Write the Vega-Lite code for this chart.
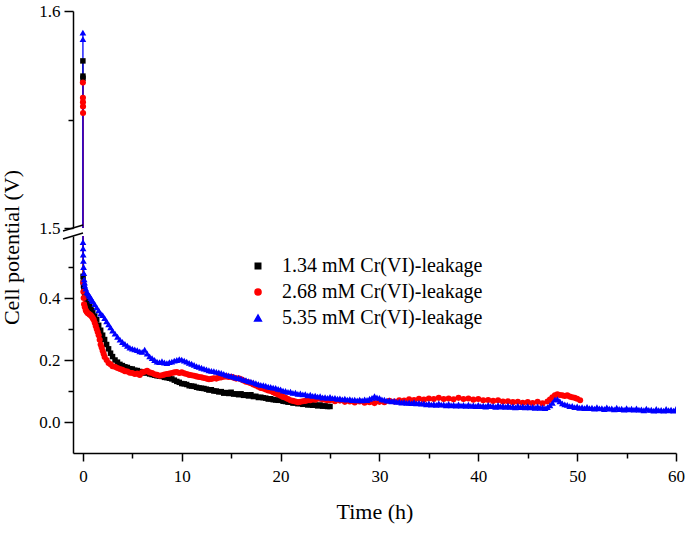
{
  "$schema": "https://vega.github.io/schema/vega-lite/v6.json",
  "autosize": {"type": "none"},
  "padding": {"left": 73, "top": 11, "right": 616, "bottom": 549},
  "config": {
    "font": "Liberation Serif",
    "view": {"stroke": null},
    "axis": {"domainColor": "black", "domainWidth": 1.5, "tickColor": "black", "tickWidth": 1.5, "labelColor": "black", "labelFontSize": 17, "labelFont": "Liberation Serif", "titleFont": "Liberation Serif", "titleFontSize": 22, "titleFontWeight": "normal", "titleColor": "black", "grid": false}
  },
  "data": {"values": [
    {"s":"1.34","t":0,"v":1.577},{"s":"1.34","t":0.005,"v":1.570},{"s":"1.34","t":0.01,"v":1.569},{"s":"1.34","t":0.02,"v":0.47},{"s":"1.34","t":0.04,"v":0.452},{"s":"1.34","t":0.06,"v":0.44},{"s":"1.34","t":0.1,"v":0.432},{"s":"1.34","t":0.15,"v":0.42},{"s":"1.34","t":0.2,"v":0.413},{"s":"1.34","t":0.3,"v":0.402},{"s":"1.34","t":0.4,"v":0.392},{"s":"1.34","t":0.5,"v":0.386},{"s":"1.34","t":0.6,"v":0.378},{"s":"1.34","t":0.7,"v":0.372},{"s":"1.34","t":0.8,"v":0.366},{"s":"1.34","t":0.9,"v":0.36},{"s":"1.34","t":1.0,"v":0.354},{"s":"1.34","t":1.2,"v":0.342},{"s":"1.34","t":1.4,"v":0.33},{"s":"1.34","t":1.6,"v":0.312},{"s":"1.34","t":1.8,"v":0.296},{"s":"1.34","t":2.0,"v":0.28},{"s":"1.34","t":2.2,"v":0.266},{"s":"1.34","t":2.4,"v":0.25},{"s":"1.34","t":2.6,"v":0.236},{"s":"1.34","t":2.8,"v":0.222},
    {"s":"1.34","t":3,"v":0.211},{"s":"1.34","t":3.25,"v":0.2},{"s":"1.34","t":3.5,"v":0.193},{"s":"1.34","t":3.75,"v":0.186},{"s":"1.34","t":4,"v":0.182},{"s":"1.34","t":4.25,"v":0.178},{"s":"1.34","t":4.5,"v":0.176},{"s":"1.34","t":4.75,"v":0.172},{"s":"1.34","t":5,"v":0.171},{"s":"1.34","t":5.25,"v":0.167},{"s":"1.34","t":5.5,"v":0.166},{"s":"1.34","t":5.75,"v":0.163},{"s":"1.34","t":6,"v":0.162},{"s":"1.34","t":6.25,"v":0.158},{"s":"1.34","t":6.5,"v":0.159},{"s":"1.34","t":6.75,"v":0.155},{"s":"1.34","t":7,"v":0.153},{"s":"1.34","t":7.25,"v":0.151},{"s":"1.34","t":7.5,"v":0.149},{"s":"1.34","t":7.75,"v":0.148},{"s":"1.34","t":8,"v":0.147},{"s":"1.34","t":8.25,"v":0.144},{"s":"1.34","t":8.5,"v":0.143},{"s":"1.34","t":8.75,"v":0.141},{"s":"1.34","t":9,"v":0.139},{"s":"1.34","t":9.25,"v":0.135},{"s":"1.34","t":9.5,"v":0.131},{"s":"1.34","t":9.75,"v":0.128},{"s":"1.34","t":10,"v":0.124},{"s":"1.34","t":10.25,"v":0.123},{"s":"1.34","t":10.5,"v":0.121},{"s":"1.34","t":10.75,"v":0.117},{"s":"1.34","t":11,"v":0.116},{"s":"1.34","t":11.25,"v":0.115},{"s":"1.34","t":11.5,"v":0.112},{"s":"1.34","t":11.75,"v":0.11},{"s":"1.34","t":12,"v":0.109},{"s":"1.34","t":12.25,"v":0.108},{"s":"1.34","t":12.5,"v":0.106},{"s":"1.34","t":12.75,"v":0.103},{"s":"1.34","t":13,"v":0.104},{"s":"1.34","t":13.25,"v":0.1},{"s":"1.34","t":13.5,"v":0.1},{"s":"1.34","t":13.75,"v":0.097},{"s":"1.34","t":14,"v":0.098},{"s":"1.34","t":14.25,"v":0.093},{"s":"1.34","t":14.5,"v":0.095},{"s":"1.34","t":14.75,"v":0.092},{"s":"1.34","t":15,"v":0.096},{"s":"1.34","t":15.25,"v":0.09},{"s":"1.34","t":15.5,"v":0.091},{"s":"1.34","t":15.75,"v":0.088},{"s":"1.34","t":16,"v":0.091},{"s":"1.34","t":16.25,"v":0.086},{"s":"1.34","t":16.5,"v":0.088},{"s":"1.34","t":16.75,"v":0.084},{"s":"1.34","t":17,"v":0.088},{"s":"1.34","t":17.25,"v":0.082},{"s":"1.34","t":17.5,"v":0.083},{"s":"1.34","t":17.75,"v":0.079},{"s":"1.34","t":18,"v":0.08},{"s":"1.34","t":18.25,"v":0.078},{"s":"1.34","t":18.5,"v":0.077},{"s":"1.34","t":18.75,"v":0.074},{"s":"1.34","t":19,"v":0.075},{"s":"1.34","t":19.25,"v":0.072},{"s":"1.34","t":19.5,"v":0.071},{"s":"1.34","t":19.75,"v":0.07},{"s":"1.34","t":20,"v":0.07},{"s":"1.34","t":20.25,"v":0.067},{"s":"1.34","t":20.5,"v":0.066},{"s":"1.34","t":20.75,"v":0.064},{"s":"1.34","t":21,"v":0.064},{"s":"1.34","t":21.25,"v":0.061},{"s":"1.34","t":21.5,"v":0.062},{"s":"1.34","t":21.75,"v":0.059},{"s":"1.34","t":22,"v":0.06},{"s":"1.34","t":22.25,"v":0.057},{"s":"1.34","t":22.5,"v":0.058},{"s":"1.34","t":22.75,"v":0.055},{"s":"1.34","t":23,"v":0.056},{"s":"1.34","t":23.25,"v":0.054},{"s":"1.34","t":23.5,"v":0.055},{"s":"1.34","t":23.75,"v":0.052},{"s":"1.34","t":24,"v":0.055},{"s":"1.34","t":24.25,"v":0.051},{"s":"1.34","t":24.5,"v":0.052},{"s":"1.34","t":24.75,"v":0.05},{"s":"1.34","t":25,"v":0.05},
    {"s":"2.68","t":0,"v":1.567},{"s":"2.68","t":0.004,"v":1.560},{"s":"2.68","t":0.008,"v":1.558},{"s":"2.68","t":0.012,"v":1.556},{"s":"2.68","t":0.016,"v":1.553},{"s":"2.68","t":0.03,"v":0.45},{"s":"2.68","t":0.05,"v":0.42},{"s":"2.68","t":0.08,"v":0.40},{"s":"2.68","t":0.12,"v":0.38},{"s":"2.68","t":0.2,"v":0.37},{"s":"2.68","t":0.3,"v":0.36},{"s":"2.68","t":0.4,"v":0.355},{"s":"2.68","t":0.5,"v":0.351},{"s":"2.68","t":0.6,"v":0.349},{"s":"2.68","t":0.7,"v":0.346},{"s":"2.68","t":0.8,"v":0.344},{"s":"2.68","t":0.9,"v":0.34},{"s":"2.68","t":1.0,"v":0.335},{"s":"2.68","t":1.1,"v":0.33},{"s":"2.68","t":1.2,"v":0.32},{"s":"2.68","t":1.3,"v":0.31},{"s":"2.68","t":1.4,"v":0.30},{"s":"2.68","t":1.5,"v":0.29},{"s":"2.68","t":1.6,"v":0.28},{"s":"2.68","t":1.7,"v":0.265},{"s":"2.68","t":1.8,"v":0.25},{"s":"2.68","t":1.9,"v":0.24},{"s":"2.68","t":2.0,"v":0.23},{"s":"2.68","t":2.1,"v":0.22},{"s":"2.68","t":2.2,"v":0.21},{"s":"2.68","t":2.4,"v":0.2},{"s":"2.68","t":2.6,"v":0.19},{"s":"2.68","t":2.8,"v":0.186},
    {"s":"2.68","t":3,"v":0.18},{"s":"2.68","t":3.25,"v":0.178},{"s":"2.68","t":3.5,"v":0.174},{"s":"2.68","t":3.75,"v":0.171},{"s":"2.68","t":4,"v":0.168},{"s":"2.68","t":4.25,"v":0.164},{"s":"2.68","t":4.5,"v":0.163},{"s":"2.68","t":4.75,"v":0.159},{"s":"2.68","t":5,"v":0.158},{"s":"2.68","t":5.25,"v":0.155},{"s":"2.68","t":5.5,"v":0.156},{"s":"2.68","t":5.75,"v":0.152},{"s":"2.68","t":6,"v":0.16},{"s":"2.68","t":6.25,"v":0.162},{"s":"2.68","t":6.5,"v":0.165},{"s":"2.68","t":6.75,"v":0.16},{"s":"2.68","t":7,"v":0.158},{"s":"2.68","t":7.25,"v":0.154},{"s":"2.68","t":7.5,"v":0.152},{"s":"2.68","t":7.75,"v":0.149},{"s":"2.68","t":8,"v":0.151},{"s":"2.68","t":8.25,"v":0.153},{"s":"2.68","t":8.5,"v":0.155},{"s":"2.68","t":8.75,"v":0.156},{"s":"2.68","t":9,"v":0.158},{"s":"2.68","t":9.25,"v":0.16},{"s":"2.68","t":9.5,"v":0.161},{"s":"2.68","t":9.75,"v":0.158},{"s":"2.68","t":10,"v":0.16},{"s":"2.68","t":10.25,"v":0.157},{"s":"2.68","t":10.5,"v":0.155},{"s":"2.68","t":10.75,"v":0.152},{"s":"2.68","t":11,"v":0.151},{"s":"2.68","t":11.25,"v":0.149},{"s":"2.68","t":11.5,"v":0.147},{"s":"2.68","t":11.75,"v":0.145},{"s":"2.68","t":12,"v":0.144},{"s":"2.68","t":12.25,"v":0.142},{"s":"2.68","t":12.5,"v":0.14},{"s":"2.68","t":12.75,"v":0.138},{"s":"2.68","t":13,"v":0.139},{"s":"2.68","t":13.25,"v":0.141},{"s":"2.68","t":13.5,"v":0.14},{"s":"2.68","t":13.75,"v":0.143},{"s":"2.68","t":14,"v":0.144},{"s":"2.68","t":14.25,"v":0.146},{"s":"2.68","t":14.5,"v":0.147},{"s":"2.68","t":14.75,"v":0.145},{"s":"2.68","t":15,"v":0.146},{"s":"2.68","t":15.25,"v":0.143},{"s":"2.68","t":15.5,"v":0.14},{"s":"2.68","t":15.75,"v":0.141},{"s":"2.68","t":16,"v":0.138},{"s":"2.68","t":16.25,"v":0.134},{"s":"2.68","t":16.5,"v":0.13},{"s":"2.68","t":16.75,"v":0.128},{"s":"2.68","t":17,"v":0.125},{"s":"2.68","t":17.25,"v":0.121},{"s":"2.68","t":17.5,"v":0.118},{"s":"2.68","t":17.75,"v":0.114},{"s":"2.68","t":18,"v":0.11},{"s":"2.68","t":18.25,"v":0.108},{"s":"2.68","t":18.5,"v":0.105},{"s":"2.68","t":18.75,"v":0.102},{"s":"2.68","t":19,"v":0.1},{"s":"2.68","t":19.25,"v":0.096},{"s":"2.68","t":19.5,"v":0.092},{"s":"2.68","t":19.75,"v":0.089},{"s":"2.68","t":20,"v":0.085},{"s":"2.68","t":20.25,"v":0.081},{"s":"2.68","t":20.5,"v":0.078},{"s":"2.68","t":20.75,"v":0.074},{"s":"2.68","t":21,"v":0.07},{"s":"2.68","t":21.25,"v":0.068},{"s":"2.68","t":21.5,"v":0.066},{"s":"2.68","t":21.75,"v":0.064},{"s":"2.68","t":22,"v":0.065},{"s":"2.68","t":22.25,"v":0.067},{"s":"2.68","t":22.5,"v":0.068},{"s":"2.68","t":22.75,"v":0.07},{"s":"2.68","t":23,"v":0.07},{"s":"2.68","t":23.25,"v":0.073},{"s":"2.68","t":23.5,"v":0.072},{"s":"2.68","t":23.75,"v":0.076},{"s":"2.68","t":24,"v":0.075},{"s":"2.68","t":24.25,"v":0.073},{"s":"2.68","t":24.5,"v":0.072},{"s":"2.68","t":24.75,"v":0.07},{"s":"2.68","t":25,"v":0.07},{"s":"2.68","t":25.5,"v":0.067},{"s":"2.68","t":26,"v":0.069},{"s":"2.68","t":26.5,"v":0.065},{"s":"2.68","t":27,"v":0.066},{"s":"2.68","t":27.5,"v":0.063},{"s":"2.68","t":28,"v":0.066},{"s":"2.68","t":28.5,"v":0.062},{"s":"2.68","t":29,"v":0.064},{"s":"2.68","t":29.5,"v":0.061},{"s":"2.68","t":30,"v":0.065},{"s":"2.68","t":30.5,"v":0.064},{"s":"2.68","t":31,"v":0.068},{"s":"2.68","t":31.5,"v":0.066},{"s":"2.68","t":32,"v":0.07},{"s":"2.68","t":32.5,"v":0.069},{"s":"2.68","t":33,"v":0.073},{"s":"2.68","t":33.5,"v":0.071},{"s":"2.68","t":34,"v":0.075},{"s":"2.68","t":34.5,"v":0.072},{"s":"2.68","t":35,"v":0.076},{"s":"2.68","t":35.5,"v":0.074},{"s":"2.68","t":36,"v":0.078},{"s":"2.68","t":36.5,"v":0.074},{"s":"2.68","t":37,"v":0.076},{"s":"2.68","t":37.5,"v":0.073},{"s":"2.68","t":38,"v":0.078},{"s":"2.68","t":38.5,"v":0.074},{"s":"2.68","t":39,"v":0.076},{"s":"2.68","t":39.5,"v":0.072},{"s":"2.68","t":40,"v":0.074},{"s":"2.68","t":40.5,"v":0.07},{"s":"2.68","t":41,"v":0.071},{"s":"2.68","t":41.5,"v":0.068},{"s":"2.68","t":42,"v":0.07},{"s":"2.68","t":42.5,"v":0.066},{"s":"2.68","t":43,"v":0.067},{"s":"2.68","t":43.5,"v":0.064},{"s":"2.68","t":44,"v":0.065},{"s":"2.68","t":44.5,"v":0.062},{"s":"2.68","t":45,"v":0.064},{"s":"2.68","t":45.5,"v":0.061},{"s":"2.68","t":46,"v":0.065},{"s":"2.68","t":46.5,"v":0.06},{"s":"2.68","t":47,"v":0.066},{"s":"2.68","t":47.25,"v":0.072},{"s":"2.68","t":47.5,"v":0.08},{"s":"2.68","t":47.75,"v":0.086},{"s":"2.68","t":48,"v":0.089},{"s":"2.68","t":48.25,"v":0.087},{"s":"2.68","t":48.5,"v":0.086},{"s":"2.68","t":48.75,"v":0.084},{"s":"2.68","t":49,"v":0.086},{"s":"2.68","t":49.25,"v":0.082},{"s":"2.68","t":49.5,"v":0.08},{"s":"2.68","t":49.75,"v":0.078},{"s":"2.68","t":50,"v":0.075},{"s":"2.68","t":50.3,"v":0.07},
    {"s":"5.35","t":0,"v":1.590},{"s":"5.35","t":0.004,"v":1.587},{"s":"5.35","t":0.01,"v":0.58},{"s":"5.35","t":0.02,"v":0.56},{"s":"5.35","t":0.03,"v":0.54},{"s":"5.35","t":0.05,"v":0.52},{"s":"5.35","t":0.07,"v":0.5},{"s":"5.35","t":0.1,"v":0.48},{"s":"5.35","t":0.13,"v":0.46},{"s":"5.35","t":0.17,"v":0.45},{"s":"5.35","t":0.2,"v":0.44},{"s":"5.35","t":0.3,"v":0.43},{"s":"5.35","t":0.4,"v":0.42},{"s":"5.35","t":0.5,"v":0.415},{"s":"5.35","t":0.6,"v":0.41},{"s":"5.35","t":0.7,"v":0.405},{"s":"5.35","t":0.8,"v":0.4},{"s":"5.35","t":0.9,"v":0.395},{"s":"5.35","t":1.0,"v":0.39},{"s":"5.35","t":1.2,"v":0.38},{"s":"5.35","t":1.4,"v":0.37},{"s":"5.35","t":1.6,"v":0.36},{"s":"5.35","t":1.8,"v":0.35},{"s":"5.35","t":2.0,"v":0.345},{"s":"5.35","t":2.2,"v":0.335},{"s":"5.35","t":2.4,"v":0.325},{"s":"5.35","t":2.6,"v":0.315},{"s":"5.35","t":2.8,"v":0.305},
    {"s":"5.35","t":3,"v":0.295},{"s":"5.35","t":3.25,"v":0.285},{"s":"5.35","t":3.5,"v":0.275},{"s":"5.35","t":3.75,"v":0.266},{"s":"5.35","t":4,"v":0.258},{"s":"5.35","t":4.25,"v":0.252},{"s":"5.35","t":4.5,"v":0.246},{"s":"5.35","t":4.75,"v":0.24},{"s":"5.35","t":5,"v":0.237},{"s":"5.35","t":5.25,"v":0.234},{"s":"5.35","t":5.5,"v":0.232},{"s":"5.35","t":5.75,"v":0.228},{"s":"5.35","t":6,"v":0.226},{"s":"5.35","t":6.25,"v":0.233},{"s":"5.35","t":6.5,"v":0.221},{"s":"5.35","t":6.75,"v":0.212},{"s":"5.35","t":7,"v":0.206},{"s":"5.35","t":7.25,"v":0.2},{"s":"5.35","t":7.5,"v":0.195},{"s":"5.35","t":7.75,"v":0.193},{"s":"5.35","t":8,"v":0.196},{"s":"5.35","t":8.25,"v":0.192},{"s":"5.35","t":8.5,"v":0.19},{"s":"5.35","t":8.75,"v":0.193},{"s":"5.35","t":9,"v":0.195},{"s":"5.35","t":9.25,"v":0.198},{"s":"5.35","t":9.5,"v":0.2},{"s":"5.35","t":9.75,"v":0.203},{"s":"5.35","t":10,"v":0.201},{"s":"5.35","t":10.25,"v":0.198},{"s":"5.35","t":10.5,"v":0.195},{"s":"5.35","t":10.75,"v":0.191},{"s":"5.35","t":11,"v":0.188},{"s":"5.35","t":11.25,"v":0.184},{"s":"5.35","t":11.5,"v":0.18},{"s":"5.35","t":11.75,"v":0.178},{"s":"5.35","t":12,"v":0.175},{"s":"5.35","t":12.25,"v":0.172},{"s":"5.35","t":12.5,"v":0.17},{"s":"5.35","t":12.75,"v":0.167},{"s":"5.35","t":13,"v":0.165},{"s":"5.35","t":13.25,"v":0.164},{"s":"5.35","t":13.5,"v":0.162},{"s":"5.35","t":13.75,"v":0.16},{"s":"5.35","t":14,"v":0.158},{"s":"5.35","t":14.25,"v":0.155},{"s":"5.35","t":14.5,"v":0.152},{"s":"5.35","t":14.75,"v":0.15},{"s":"5.35","t":15,"v":0.148},{"s":"5.35","t":15.25,"v":0.146},{"s":"5.35","t":15.5,"v":0.143},{"s":"5.35","t":15.75,"v":0.142},{"s":"5.35","t":16,"v":0.14},{"s":"5.35","t":16.25,"v":0.137},{"s":"5.35","t":16.5,"v":0.135},{"s":"5.35","t":16.75,"v":0.132},{"s":"5.35","t":17,"v":0.13},{"s":"5.35","t":17.25,"v":0.128},{"s":"5.35","t":17.5,"v":0.125},{"s":"5.35","t":17.75,"v":0.122},{"s":"5.35","t":18,"v":0.12},{"s":"5.35","t":18.25,"v":0.119},{"s":"5.35","t":18.5,"v":0.117},{"s":"5.35","t":18.75,"v":0.114},{"s":"5.35","t":19,"v":0.113},{"s":"5.35","t":19.25,"v":0.111},{"s":"5.35","t":19.5,"v":0.11},{"s":"5.35","t":19.75,"v":0.107},
    {"s":"5.35","t":20,"v":0.105},{"s":"5.35","t":20.25,"v":0.101},{"s":"5.35","t":20.5,"v":0.1},{"s":"5.35","t":20.75,"v":0.097},{"s":"5.35","t":21,"v":0.098},{"s":"5.35","t":21.25,"v":0.094},{"s":"5.35","t":21.5,"v":0.095},{"s":"5.35","t":21.75,"v":0.091},{"s":"5.35","t":22,"v":0.092},{"s":"5.35","t":22.25,"v":0.089},{"s":"5.35","t":22.5,"v":0.09},{"s":"5.35","t":22.75,"v":0.086},{"s":"5.35","t":23,"v":0.088},{"s":"5.35","t":23.25,"v":0.084},{"s":"5.35","t":23.5,"v":0.085},{"s":"5.35","t":23.75,"v":0.082},{"s":"5.35","t":24,"v":0.083},{"s":"5.35","t":24.25,"v":0.079},{"s":"5.35","t":24.5,"v":0.08},{"s":"5.35","t":24.75,"v":0.078},{"s":"5.35","t":25,"v":0.081},{"s":"5.35","t":25.25,"v":0.077},{"s":"5.35","t":25.5,"v":0.078},{"s":"5.35","t":25.75,"v":0.075},{"s":"5.35","t":26,"v":0.076},{"s":"5.35","t":26.25,"v":0.073},{"s":"5.35","t":26.5,"v":0.075},{"s":"5.35","t":26.75,"v":0.072},{"s":"5.35","t":27,"v":0.074},{"s":"5.35","t":27.25,"v":0.071},{"s":"5.35","t":27.5,"v":0.072},{"s":"5.35","t":27.75,"v":0.07},{"s":"5.35","t":28,"v":0.072},{"s":"5.35","t":28.25,"v":0.07},{"s":"5.35","t":28.5,"v":0.073},{"s":"5.35","t":28.75,"v":0.071},{"s":"5.35","t":29,"v":0.075},{"s":"5.35","t":29.25,"v":0.078},{"s":"5.35","t":29.5,"v":0.083},{"s":"5.35","t":29.75,"v":0.079},{"s":"5.35","t":30,"v":0.078},{"s":"5.35","t":30.25,"v":0.073},{"s":"5.35","t":30.5,"v":0.072},{"s":"5.35","t":30.75,"v":0.069},{"s":"5.35","t":31,"v":0.07},{"s":"5.35","t":31.25,"v":0.067},{"s":"5.35","t":31.5,"v":0.068},{"s":"5.35","t":31.75,"v":0.065},{"s":"5.35","t":32,"v":0.066},{"s":"5.35","t":32.25,"v":0.063},{"s":"5.35","t":32.5,"v":0.065},{"s":"5.35","t":32.75,"v":0.062},{"s":"5.35","t":33,"v":0.063},{"s":"5.35","t":33.25,"v":0.061},{"s":"5.35","t":33.5,"v":0.064},{"s":"5.35","t":33.75,"v":0.06},{"s":"5.35","t":34,"v":0.062},{"s":"5.35","t":34.25,"v":0.059},{"s":"5.35","t":34.5,"v":0.06},{"s":"5.35","t":34.75,"v":0.057},{"s":"5.35","t":35,"v":0.06},{"s":"5.35","t":35.25,"v":0.056},{"s":"5.35","t":35.5,"v":0.058},{"s":"5.35","t":35.75,"v":0.055},{"s":"5.35","t":36,"v":0.06},{"s":"5.35","t":36.25,"v":0.056},{"s":"5.35","t":36.5,"v":0.057},{"s":"5.35","t":36.75,"v":0.054},{"s":"5.35","t":37,"v":0.058},{"s":"5.35","t":37.25,"v":0.054},{"s":"5.35","t":37.5,"v":0.056},{"s":"5.35","t":37.75,"v":0.053},{"s":"5.35","t":38,"v":0.057},{"s":"5.35","t":38.25,"v":0.053},{"s":"5.35","t":38.5,"v":0.055},{"s":"5.35","t":38.75,"v":0.052},{"s":"5.35","t":39,"v":0.056},{"s":"5.35","t":39.25,"v":0.052},{"s":"5.35","t":39.5,"v":0.054},{"s":"5.35","t":39.75,"v":0.051},{"s":"5.35","t":40,"v":0.055},{"s":"5.35","t":40.25,"v":0.051},{"s":"5.35","t":40.5,"v":0.053},{"s":"5.35","t":40.75,"v":0.05},{"s":"5.35","t":41,"v":0.055},{"s":"5.35","t":41.25,"v":0.051},{"s":"5.35","t":41.5,"v":0.052},{"s":"5.35","t":41.75,"v":0.049},{"s":"5.35","t":42,"v":0.054},{"s":"5.35","t":42.25,"v":0.05},{"s":"5.35","t":42.5,"v":0.052},{"s":"5.35","t":42.75,"v":0.049},{"s":"5.35","t":43,"v":0.053},{"s":"5.35","t":43.25,"v":0.049},{"s":"5.35","t":43.5,"v":0.05},{"s":"5.35","t":43.75,"v":0.047},{"s":"5.35","t":44,"v":0.052},{"s":"5.35","t":44.25,"v":0.048},{"s":"5.35","t":44.5,"v":0.05},{"s":"5.35","t":44.75,"v":0.047},{"s":"5.35","t":45,"v":0.051},{"s":"5.35","t":45.25,"v":0.047},{"s":"5.35","t":45.5,"v":0.049},{"s":"5.35","t":45.75,"v":0.046},{"s":"5.35","t":46,"v":0.05},{"s":"5.35","t":46.25,"v":0.046},{"s":"5.35","t":46.5,"v":0.047},{"s":"5.35","t":46.75,"v":0.045},{"s":"5.35","t":47,"v":0.048},{"s":"5.35","t":47.25,"v":0.054},{"s":"5.35","t":47.5,"v":0.062},{"s":"5.35","t":47.75,"v":0.072},{"s":"5.35","t":48,"v":0.074},{"s":"5.35","t":48.25,"v":0.067},{"s":"5.35","t":48.5,"v":0.06},{"s":"5.35","t":48.75,"v":0.057},{"s":"5.35","t":49,"v":0.055},{"s":"5.35","t":49.25,"v":0.051},{"s":"5.35","t":49.5,"v":0.052},{"s":"5.35","t":49.75,"v":0.048},{"s":"5.35","t":50,"v":0.05},{"s":"5.35","t":50.25,"v":0.046},{"s":"5.35","t":50.5,"v":0.048},{"s":"5.35","t":50.75,"v":0.045},{"s":"5.35","t":51,"v":0.049},{"s":"5.35","t":51.25,"v":0.045},{"s":"5.35","t":51.5,"v":0.046},{"s":"5.35","t":51.75,"v":0.043},{"s":"5.35","t":52,"v":0.048},{"s":"5.35","t":52.25,"v":0.044},{"s":"5.35","t":52.5,"v":0.045},{"s":"5.35","t":52.75,"v":0.042},{"s":"5.35","t":53,"v":0.047},{"s":"5.35","t":53.25,"v":0.043},{"s":"5.35","t":53.5,"v":0.044},{"s":"5.35","t":53.75,"v":0.041},{"s":"5.35","t":54,"v":0.046},{"s":"5.35","t":54.25,"v":0.042},{"s":"5.35","t":54.5,"v":0.043},{"s":"5.35","t":54.75,"v":0.04},{"s":"5.35","t":55,"v":0.045},{"s":"5.35","t":55.25,"v":0.041},{"s":"5.35","t":55.5,"v":0.043},{"s":"5.35","t":55.75,"v":0.04},{"s":"5.35","t":56,"v":0.044},{"s":"5.35","t":56.25,"v":0.04},{"s":"5.35","t":56.5,"v":0.041},{"s":"5.35","t":56.75,"v":0.038},{"s":"5.35","t":57,"v":0.043},{"s":"5.35","t":57.25,"v":0.039},{"s":"5.35","t":57.5,"v":0.04},{"s":"5.35","t":57.75,"v":0.037},{"s":"5.35","t":58,"v":0.042},{"s":"5.35","t":58.25,"v":0.038},{"s":"5.35","t":58.5,"v":0.039},{"s":"5.35","t":58.75,"v":0.037},{"s":"5.35","t":59,"v":0.042},{"s":"5.35","t":59.25,"v":0.038},{"s":"5.35","t":59.5,"v":0.04},{"s":"5.35","t":59.75,"v":0.037},{"s":"5.35","t":60,"v":0.042}
  ]},
  "spacing": 8,
  "bounds": "flush",
  "resolve": {"scale": {"y": "independent", "x": "shared", "color": "shared", "shape": "shared", "size": "shared"}},
  "vconcat": [
    {
      "width": 603,
      "height": 217,
      "layer": [
        {
          "mark": {"type": "line", "strokeWidth": 1.3, "clip": true},
          "encoding": {
            "x": {"field": "t", "type": "quantitative", "scale": {"domain": [-1, 60], "nice": false, "zero": false}, "axis": null},
            "y": {"field": "v", "type": "quantitative", "scale": {"domain": [1.5, 1.6], "nice": false, "zero": false},
              "axis": {"title": null, "values": [1.5, 1.55, 1.6], "labelPadding": 4, "labelExpr": "abs(datum.value-1.55) < 0.001 ? '' : format(datum.value, '.1f')", "tickSize": {"condition": {"test": "abs(datum.value-1.55) < 0.001", "value": 5}, "value": 9}}},
            "color": {"field": "s", "type": "nominal", "scale": {"domain": ["1.34", "2.68", "5.35"], "range": ["#000000", "#ff0000", "#0000ff"]},
              "legend": {"orient": "none", "legendX": 175, "legendY": 245, "title": null, "padding": 0, "labelFontSize": 20, "labelFont": "Liberation Serif", "labelColor": "black", "labelLimit": 0, "labelExpr": "datum.label + ' mM Cr(VI)-leakage'", "symbolSize": 45, "labelOffset": 14, "rowPadding": 6, "symbolStrokeWidth": 1.5}}
          }
        },
        {
          "mark": {"type": "point", "filled": true, "opacity": 1, "clip": true},
          "encoding": {
            "x": {"field": "t", "type": "quantitative"},
            "y": {"field": "v", "type": "quantitative"},
            "color": {"field": "s", "type": "nominal",
              "legend": {"orient": "none", "legendX": 175, "legendY": 245, "title": null, "padding": 0, "labelFontSize": 20, "labelFont": "Liberation Serif", "labelColor": "black", "labelLimit": 0, "labelExpr": "datum.label + ' mM Cr(VI)-leakage'", "symbolSize": 45, "labelOffset": 14, "rowPadding": 6, "symbolStrokeWidth": 1.5}},
            "shape": {"field": "s", "type": "nominal", "scale": {"domain": ["1.34", "2.68", "5.35"], "range": ["square", "circle", "triangle-up"]}, "legend": null},
            "size": {"field": "s", "type": "nominal", "scale": {"domain": ["1.34", "2.68", "5.35"], "range": [30, 45, 60]}, "legend": null}
          }
        },
        {
          "data": {"values": [{"k": 1}]},
          "mark": {"type": "point", "shape": "M-1,0.3L1,-0.3", "size": 400, "filled": false, "stroke": "black", "strokeWidth": 1.5, "opacity": 1, "clip": false},
          "encoding": {"x": {"datum": -1, "type": "quantitative"}, "y": {"datum": 1.5, "type": "quantitative"}}
        }
      ]
    },
    {
      "width": 603,
      "height": 217,
      "layer": [
        {
          "mark": {"type": "line", "strokeWidth": 1.3, "clip": true},
          "encoding": {
            "x": {"field": "t", "type": "quantitative", "scale": {"domain": [-1, 60], "nice": false, "zero": false},
              "axis": {"title": "Time (h)", "values": [0, 5, 10, 15, 20, 25, 30, 35, 40, 45, 50, 55, 60], "labelFlush": false, "labelPadding": 7, "titlePadding": 17, "labelExpr": "datum.value % 10 == 5 ? '' : datum.label", "tickSize": {"condition": {"test": "datum.value % 10 == 5", "value": 5}, "value": 8}}},
            "y": {"field": "v", "type": "quantitative", "scale": {"domain": [-0.1, 0.6], "nice": false, "zero": false},
              "axis": {"title": "Cell potential (V)", "titleY": 11, "titleX": -50, "values": [0, 0.1, 0.2, 0.3, 0.4, 0.5], "labelPadding": 4, "labelExpr": "round(datum.value*10) % 2 == 1 ? '' : format(datum.value, '.1f')", "tickSize": {"condition": {"test": "round(datum.value*10) % 2 == 1", "value": 5}, "value": 9}}},
            "color": {"field": "s", "type": "nominal",
              "legend": {"orient": "none", "legendX": 175, "legendY": 245, "title": null, "padding": 0, "labelFontSize": 20, "labelFont": "Liberation Serif", "labelColor": "black", "labelLimit": 0, "labelExpr": "datum.label + ' mM Cr(VI)-leakage'", "symbolSize": 45, "labelOffset": 14, "rowPadding": 6, "symbolStrokeWidth": 1.5}}
          }
        },
        {
          "mark": {"type": "point", "filled": true, "opacity": 1, "clip": true},
          "encoding": {
            "x": {"field": "t", "type": "quantitative"},
            "y": {"field": "v", "type": "quantitative"},
            "color": {"field": "s", "type": "nominal",
              "legend": {"orient": "none", "legendX": 175, "legendY": 245, "title": null, "padding": 0, "labelFontSize": 20, "labelFont": "Liberation Serif", "labelColor": "black", "labelLimit": 0, "labelExpr": "datum.label + ' mM Cr(VI)-leakage'", "symbolSize": 45, "labelOffset": 14, "rowPadding": 6, "symbolStrokeWidth": 1.5}},
            "shape": {"field": "s", "type": "nominal", "legend": null},
            "size": {"field": "s", "type": "nominal", "legend": null}
          }
        },
        {
          "data": {"values": [{"k": 1}]},
          "mark": {"type": "point", "shape": "M-1,0.3L1,-0.3", "size": 400, "filled": false, "stroke": "black", "strokeWidth": 1.5, "opacity": 1, "clip": false},
          "encoding": {"x": {"datum": -1, "type": "quantitative"}, "y": {"datum": 0.6, "type": "quantitative"}}
        }
      ]
    }
  ]
}
